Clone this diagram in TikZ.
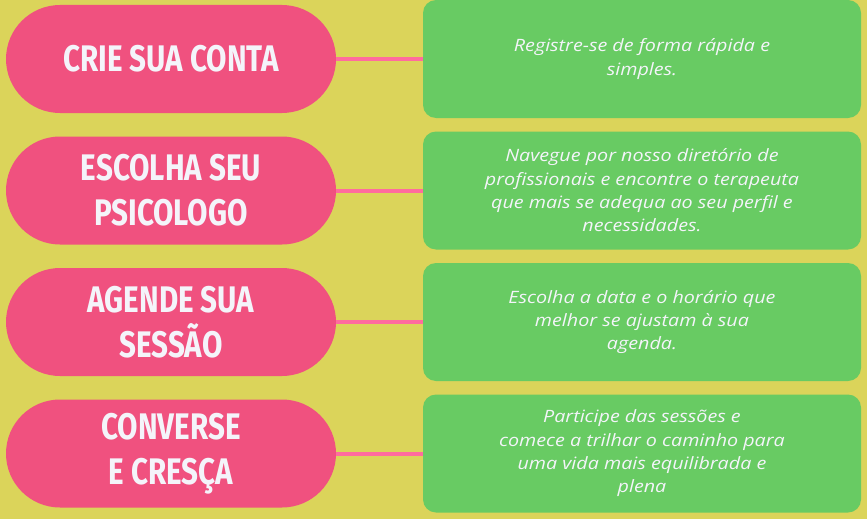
\documentclass[tikz,border=0pt]{standalone}
\usepackage{fontspec}
\newfontfamily\headfont[FakeStretch=0.8]{Fira Sans}
\newfontfamily\bodyfont[FakeStretch=1.16]{Open Sans}
\definecolor{bgc}{HTML}{DBD45A}
\definecolor{pinkc}{HTML}{F0517F}
\definecolor{greenc}{HTML}{68CB63}
\definecolor{linec}{HTML}{FF6B9E}
\definecolor{txtc}{HTML}{F4F4FA}
\begin{document}
\begin{tikzpicture}[x=1pt,y=-1pt,
  stepbox/.style={fill=pinkc, draw=none, rounded corners=54pt, minimum width=330pt, minimum height=108pt, inner sep=0pt, align=center, text=txtc, font=\headfont\bfseries\fontsize{37}{45}\selectfont},
  descbox/.style={fill=greenc, draw=none, rounded corners=13pt, minimum width=438pt, minimum height=118pt, inner sep=0pt, align=center, text=txtc, font=\bodyfont\itshape\fontsize{17}{23.3}\selectfont},
  conn/.style={draw=linec, line width=4pt}]
\fill[bgc] (0,0) rectangle (867,519);
\useasboundingbox (0,0) rectangle (867,519);
\node[stepbox] (p1) at (171,59) {CRIE SUA CONTA};
\node[stepbox] (p2) at (171,190.5) {ESCOLHA SEU\\PSICOLOGO};
\node[stepbox] (p3) at (171,322) {AGENDE SUA\\SESSÃO};
\node[stepbox] (p4) at (171,453.5) {CONVERSE\\E CRESÇA};
\node[descbox] (g1) at (642,59) {Registre-se de forma rápida e\\simples.};
\node[descbox] (g2) at (642,190.5) {Navegue por nosso diretório de\\profissionais e encontre o terapeuta\\que mais se adequa ao seu perfil e\\necessidades.};
\node[descbox] (g3) at (642,322) {Escolha a data e o horário que\\melhor se ajustam à sua\\agenda.};
\node[descbox] (g4) at (642,453.5) {Participe das sessões e\\comece a trilhar o caminho para\\uma vida mais equilibrada e\\plena};
\draw[conn] (p1.east) -- (g1.west);
\draw[conn] (p2.east) -- (g2.west);
\draw[conn] (p3.east) -- (g3.west);
\draw[conn] (p4.east) -- (g4.west);
\end{tikzpicture}
\end{document}
